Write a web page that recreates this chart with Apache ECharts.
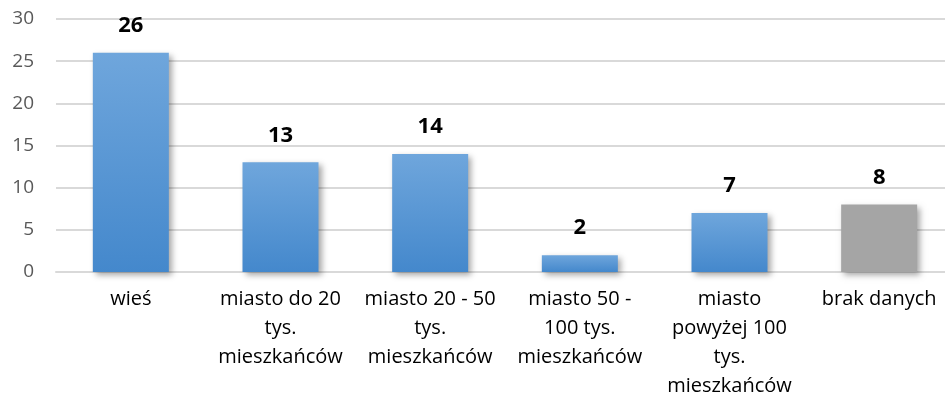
<!DOCTYPE html>
<html>
<head>
<meta charset="utf-8">
<script src="https://cdn.jsdelivr.net/npm/echarts@6/dist/echarts.min.js"></script>
<style>
  html, body { margin: 0; padding: 0; background: #fff; }
  #chart { width: 945px; height: 400px; }
</style>
</head>
<body>
<div id="chart"></div>
<script>
const categories = [
  'wieś',
  'miasto do 20\ntys.\nmieszkańców',
  'miasto 20 - 50\ntys.\nmieszkańców',
  'miasto 50 -\n100 tys.\nmieszkańców',
  'miasto\npowyżej 100\ntys.\nmieszkańców',
  'brak danych'
];
const values = [26, 13, 14, 2, 7, 8];
const grayIndex = 5;

const chart = echarts.init(document.getElementById('chart'));

const blue = new echarts.graphic.LinearGradient(0, 0, 0, 1, [
  { offset: 0, color: '#6fa6dc' },
  { offset: 1, color: '#4488cc' }
]);

chart.setOption({
  animation: false,
  grid: { left: 56, right: -9, top: 19, bottom: 128, outerBoundsMode: 'none' },
  xAxis: {
    type: 'category',
    data: categories,
    axisLine: { show: true, lineStyle: { color: '#d9d9d9', width: 2 } },
    axisTick: { show: false },
    axisLabel: {
      interval: 0,
      color: '#000',
      fontSize: 20,
      fontFamily: 'Open Sans',
      lineHeight: 29,
      margin: 13
    }
  },
  yAxis: {
    type: 'value',
    min: 0,
    max: 30,
    interval: 5,
    axisLine: { show: false },
    axisTick: { show: false },
    splitLine: { lineStyle: { color: '#d9d9d9', width: 2 } },
    axisLabel: { color: '#595959', fontSize: 19, fontFamily: 'Open Sans', margin: 22 }
  },
  series: [{
    type: 'bar',
    barWidth: 76,
    data: values.map((v, i) => ({
      value: v,
      itemStyle: { color: i === grayIndex ? '#a5a5a5' : blue }
    })),
    itemStyle: {
      shadowBlur: 6,
      shadowOffsetX: 3,
      shadowOffsetY: 3,
      shadowColor: 'rgba(0,0,0,0.35)'
    },
    label: {
      show: true,
      position: 'top',
      distance: 16,
      color: '#000',
      fontWeight: 'bold',
      fontSize: 22,
      fontFamily: 'Open Sans'
    }
  }]
});
</script>
</body>
</html>
